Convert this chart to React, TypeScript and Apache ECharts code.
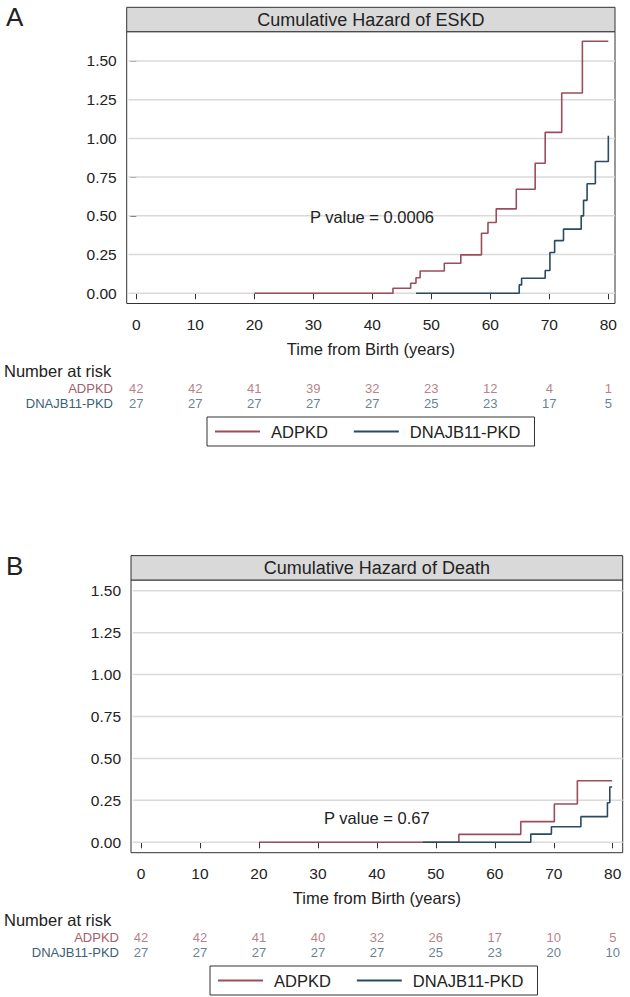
import React, { useEffect, useRef } from "react";
import * as echarts from "echarts";

// ---------- data ----------
const timeTicks = [0, 10, 20, 30, 40, 50, 60, 70, 80];
const hazardTicks = [0, 0.25, 0.5, 0.75, 1, 1.25, 1.5];
const groupNames = ["ADPKD", "DNAJB11-PKD"];

// Panel A – cumulative hazard of ESKD (time of step, hazard after step)
const eskdAdpkdTime = [20, 43.5, 46.5, 47.4, 48.1, 52.2, 55.0, 58.5, 59.6, 61.0, 64.4, 67.6, 69.3, 72.1, 75.6, 80];
const eskdAdpkdHazard = [0, 0.032, 0.065, 0.1, 0.144, 0.194, 0.248, 0.388, 0.457, 0.545, 0.672, 0.84, 1.039, 1.293, 1.627, 1.627];
const eskdDnajTime = [47.4, 64.9, 65.3, 69.3, 70.1, 70.9, 72.4, 75.4, 75.8, 76.4, 77.8, 80];
const eskdDnajHazard = [0, 0.054, 0.097, 0.147, 0.263, 0.34, 0.414, 0.5, 0.6, 0.707, 0.851, 1.017];

// Panel B – cumulative hazard of death
const deathAdpkdTime = [20, 53.9, 64.4, 70.1, 74.0, 79.9];
const deathAdpkdHazard = [0, 0.047, 0.123, 0.228, 0.367, 0.367];
const deathDnajTime = [47.8, 66.1, 69.6, 74.6, 79.1, 79.5, 79.9];
const deathDnajHazard = [0, 0.049, 0.093, 0.153, 0.236, 0.33, 0.33];

// Number at risk
const eskdRiskAdpkd = [42, 42, 41, 39, 32, 23, 12, 4, 1];
const eskdRiskDnaj = [27, 27, 27, 27, 27, 25, 23, 17, 5];
const deathRiskAdpkd = [42, 42, 41, 40, 32, 26, 17, 10, 5];
const deathRiskDnaj = [27, 27, 27, 27, 27, 25, 23, 20, 10];

const titleA = "Cumulative Hazard of ESKD";
const titleB = "Cumulative Hazard of Death";
const pValueA = "P value = 0.0006";
const pValueB = "P value = 0.67";
const xTitle = "Time from Birth (years)";

// ---------- style ----------
const FONT = "'Liberation Sans', Arial, sans-serif";
const RED = "#9c4d5b";
const BLUE = "#2b4a5f";
const RED_TXT = "#a3606b";
const BLUE_TXT = "#3c6175";
const INK = "#222";
const GRIDLINE = "#dadada";

const zip = (a: number[], b: number[]) => a.map((t, i) => [t, b[i]]);

export default function App() {
  const ref = useRef<HTMLDivElement>(null);

  useEffect(() => {
    if (!ref.current) return;
    const chart = echarts.init(ref.current, null, { renderer: "svg" });

    const panels = [
      { left: 126.7, top: 31.7, width: 488.3, height: 271.8, xMin: -1.63, xMax: 81.13, yMin: -0.066, yMax: 1.689, riskTop: 380.5, rowMargin: 13.7, legendLeft: 207, legendTop: 417 },
      { left: 131, top: 580, width: 491.7, height: 272.7, xMin: -1.7, xMax: 81.69, yMin: -0.062, yMax: 1.564, riskTop: 929.5, rowMargin: 12, legendLeft: 210, legendTop: 966 },
    ];

    const grid: any[] = [];
    const xAxis: any[] = [];
    const yAxis: any[] = [];
    panels.forEach((p) => {
      grid.push({ left: p.left, top: p.top, width: p.width, height: p.height, show: true, borderColor: "#333", borderWidth: 1 });
    });
    panels.forEach((p) => {
      grid.push({ left: p.left, top: p.riskTop, width: p.width, height: 30, show: false });
    });
    // plot axes
    panels.forEach((p, i) => {
      xAxis.push({
        type: "value", gridIndex: i, min: p.xMin, max: p.xMax,
        axisLine: { show: false },
        axisTick: { show: true, length: 6, customValues: timeTicks, lineStyle: { color: "#333", width: 1 } },
        axisLabel: { customValues: timeTicks, margin: 13, fontSize: 15.5, color: INK, fontFamily: FONT },
        splitLine: { show: false },
        name: xTitle, nameLocation: "middle", nameGap: 37,
        nameTextStyle: { fontSize: 16.5, color: INK, fontFamily: FONT },
      });
      yAxis.push({
        type: "value", gridIndex: i, min: p.yMin, max: p.yMax,
        axisLine: { show: false },
        axisTick: { show: true, length: 6, customValues: hazardTicks, lineStyle: { color: "#333", width: 1 } },
        axisLabel: { customValues: hazardTicks, margin: 10, fontSize: 15.5, color: INK, fontFamily: FONT, formatter: (v: number) => v.toFixed(2) },
        splitLine: { show: false },
      });
    });
    // risk-table axes
    panels.forEach((p, i) => {
      xAxis.push({ type: "value", gridIndex: 2 + i, min: p.xMin, max: p.xMax, show: false });
      yAxis.push({
        type: "category", gridIndex: 2 + i, data: groupNames, inverse: true,
        axisLine: { show: false }, axisTick: { show: false }, splitLine: { show: false },
        axisLabel: { interval: 0, margin: p.rowMargin, fontSize: 13, fontFamily: FONT, color: (v: string) => (v === groupNames[0] ? RED_TXT : BLUE_TXT) },
      });
    });

    // horizontal reference lines at each hazard tick (one thin line series per tick)
    const gridLineSeries: any[] = [];
    panels.forEach((p, xi) => {
      hazardTicks.forEach((v) => {
        gridLineSeries.push({
          name: "gridline", type: "line", xAxisIndex: xi, yAxisIndex: xi, z: 1, silent: true,
          data: [[p.xMin + 0.3, v], [p.xMax, v]], symbol: "none", showSymbol: false,
          lineStyle: { color: GRIDLINE, width: 1.5 }, itemStyle: { color: GRIDLINE },
        });
      });
    });
    const stepLine = (name: string, xi: number, data: number[][], color: string) => ({
      name, type: "line", step: "end", xAxisIndex: xi, yAxisIndex: xi, data,
      symbol: "none", showSymbol: false, z: 3,
      lineStyle: { color, width: 1.6 }, itemStyle: { color },
    });
    const riskRow = (name: string, xi: number, group: string, values: number[], color: string) => ({
      name, type: "scatter", xAxisIndex: xi, yAxisIndex: xi, symbolSize: 1,
      itemStyle: { color: "rgba(0,0,0,0)" },
      data: timeTicks.map((t, i) => [t, group, values[i]]),
      label: { show: true, position: "inside", formatter: (pp: any) => String(pp.value[2]), fontSize: 13, color, fontFamily: FONT },
    });

    const series: any[] = [
      ...gridLineSeries,
      stepLine(groupNames[0], 0, zip(eskdAdpkdTime, eskdAdpkdHazard), RED),
      stepLine(groupNames[1], 0, zip(eskdDnajTime, eskdDnajHazard), BLUE),
      stepLine(groupNames[0], 1, zip(deathAdpkdTime, deathAdpkdHazard), RED),
      stepLine(groupNames[1], 1, zip(deathDnajTime, deathDnajHazard), BLUE),
      riskRow("riskA1", 2, groupNames[0], eskdRiskAdpkd, RED_TXT),
      riskRow("riskA2", 2, groupNames[1], eskdRiskDnaj, BLUE_TXT),
      riskRow("riskB1", 3, groupNames[0], deathRiskAdpkd, RED_TXT),
      riskRow("riskB2", 3, groupNames[1], deathRiskDnaj, BLUE_TXT),
    ];

    const legend = panels.map((p) => ({
      data: groupNames, orient: "horizontal", icon: "rect", itemWidth: 45, itemHeight: 2, itemGap: 26,
      left: p.legendLeft, top: p.legendTop,
      borderColor: "#333", borderWidth: 1, borderRadius: 0, padding: [6, 14, 6, 8],
      selectedMode: false,
      textStyle: { fontSize: 16.5, color: INK, fontFamily: FONT, padding: [0, 0, 0, 6], lineHeight: 17 },
    }));

    const header = (p: any, text: string) => ({
      type: "group",
      children: [
        { type: "rect", shape: { x: p.left, y: p.top - 24.4, width: p.width, height: 24.4 }, style: { fill: "#d9d9d9", stroke: "#333", lineWidth: 1 } },
        { type: "text", x: p.left + p.width / 2, y: p.top - 12.2, style: { text, fontSize: 18, fontFamily: FONT, fill: INK, align: "center", verticalAlign: "middle" } },
      ],
    });
    const txt = (x: number, y: number, text: string, size: number, extra: any = {}) => ({
      type: "text", x, y, z: 10, style: { text, fontSize: size, fontFamily: FONT, fill: INK, verticalAlign: "middle", ...extra },
    });

    const graphic = [
      header(panels[0], titleA),
      header(panels[1], titleB),
      txt(6, 17, "A", 26),
      txt(6, 566, "B", 26),
      txt(310, 216.7, pValueA, 16.5),
      txt(324, 818, pValueB, 16.5),
      txt(4, 371, "Number at risk", 16.5),
      txt(4, 920, "Number at risk", 16.5),
    ];

    chart.setOption({
      animation: false,
      backgroundColor: "#fff",
      grid, xAxis, yAxis, series, legend, graphic,
    });
    return () => chart.dispose();
  }, []);

  return <div ref={ref} style={{ position: "absolute", left: 0, top: 0, width: 630, height: 997 }} />;
}
